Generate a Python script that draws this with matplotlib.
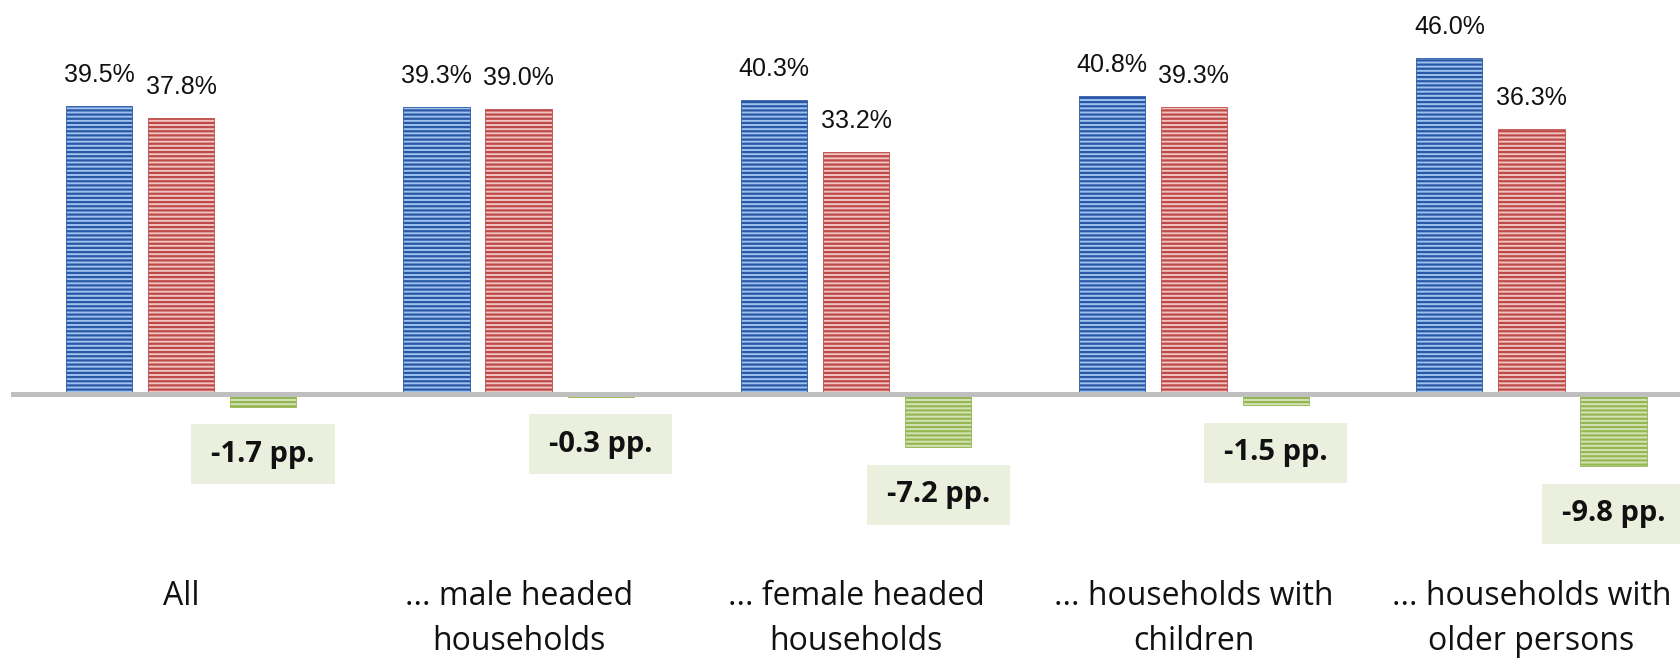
"""Share of households, by household type, with the change in percentage points."""
import matplotlib.pyplot as plt
from matplotlib.patches import Rectangle
import numpy as np

categories = [
    "All",
    "... male headed\nhouseholds",
    "... female headed\nhouseholds",
    "... households with\nchildren",
    "... households with\nolder persons",
]
first_values = [39.5, 39.3, 40.3, 40.8, 46.0]
second_values = [37.8, 39.0, 33.2, 39.3, 36.3]
change_pp = [-1.7, -0.3, -7.2, -1.5, -9.8]

# fill / stripe colours for each series
BLUE = ("#9fc2ee", "#2a58a6")
RED = ("#f1c4c3", "#bd4a47")
GREEN = ("#d5e2b8", "#95b752")
BOX = "#ebf0de"

plt.rcParams["hatch.linewidth"] = 1.6

fig = plt.figure(figsize=(16.81, 6.58), dpi=100)
ax = fig.add_axes([0, 0, 1, 1])
ax.set_xlim(-0.536, 4.443)
ax.set_ylim(-36.05, 53.97)
ax.axis("off")

x = np.arange(len(categories))
offset = 0.243
width = 0.196

for vals, shift, (face, edge) in [
    (first_values, -offset, BLUE),
    (second_values, 0.0, RED),
    (change_pp, offset, GREEN),
]:
    ax.bar(x + shift, vals, width, color=face, edgecolor=edge,
           hatch="----", linewidth=0.6, zorder=2)

ax.axhline(0, xmin=0.008, xmax=1, color="#bfbfbf", linewidth=3.6, zorder=3)

# percentage labels above the bars
for vals, shift in [(first_values, -offset), (second_values, 0.0)]:
    for xi, v in zip(x, vals):
        ax.text(xi + shift, v + 4.25, f"{v:.1f}%", ha="center", va="center",
                fontsize=18, family="Liberation Sans", color="#111111")

# change labels in shaded boxes under the green bars
box_w, box_h = 0.4236, 8.2
for xi, v in zip(x, change_pp):
    cx, cy = xi + offset, v - 6.5
    ax.add_patch(Rectangle((cx - box_w / 2, cy - box_h / 2), box_w, box_h,
                           facecolor=BOX, edgecolor="none", zorder=1))
    ax.text(cx, cy, f"{v:.1f} pp.", ha="center", va="center",
            fontsize=21, family="Open Sans", fontweight="bold",
            color="#111111", zorder=4)

# category names, one line at a time
for xi, label in zip(x, categories):
    for line, y in zip(label.split("\n"), [-28.8, -35.0]):
        ax.text(xi, y, line, ha="center", va="baseline", fontsize=23,
                family="Open Sans", color="#111111")

fig.savefig("out.png", dpi=100)
